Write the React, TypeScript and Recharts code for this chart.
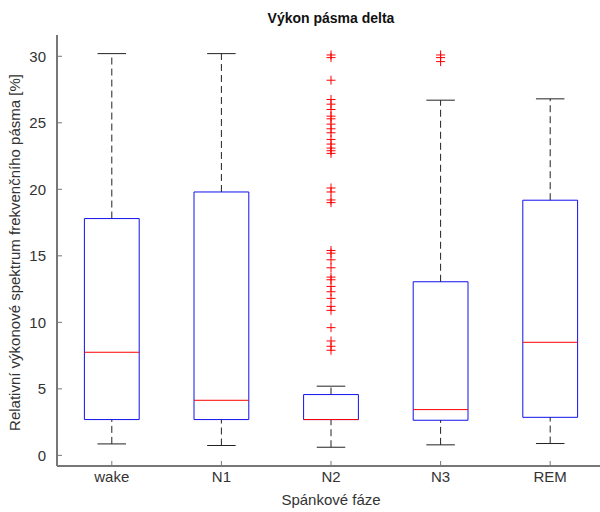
import {
  ComposedChart,
  XAxis,
  YAxis,
  Scatter,
  ReferenceArea,
  ReferenceLine,
} from 'recharts';

const categories = ['wake', 'N1', 'N2', 'N3', 'REM'];
const whiskerLow = [0.86, 0.74, 0.61, 0.79, 0.89];
const quartile1 = [2.69, 2.69, 2.69, 2.64, 2.86];
const medians = [7.75, 4.14, 2.69, 3.44, 8.5];
const quartile3 = [17.8, 19.8, 4.57, 13.05, 19.18];
const whiskerHigh = [30.2, 30.2, 5.2, 26.7, 26.8];

const outliersN2 = [
  30.1, 29.9, 28.2, 26.75, 26.4, 26.0, 25.5, 25.3, 24.9, 24.55, 24.25, 23.75,
  23.4, 23.1, 22.9, 22.7, 20.1, 19.8, 19.2, 19.0, 15.4, 15.2, 14.7, 14.1, 13.4,
  13.2, 12.7, 12.3, 11.8, 11.2, 10.9, 9.6, 8.6, 8.2, 7.9,
];
const outliersN3 = [30.1, 29.9, 29.6];

const yTicks = [0, 5, 10, 15, 20, 25, 30];
const xTicks = [1, 2, 3, 4, 5];

const outlierPoints = [
  ...outliersN2.map((y) => ({ x: 3, y })),
  ...outliersN3.map((y) => ({ x: 4, y })),
];

const FONT = '"Liberation Sans", Arial, sans-serif';
const AXIS = '#777';
const BOX_HALF = 0.25;
const CAP_HALF = 0.13;

// red "+" marker like matlab
const PlusMark = (props: any) => {
  const { cx, cy } = props;
  if (cx == null || cy == null) return null;
  return (
    <g>
      <line x1={cx - 4.5} x2={cx + 4.5} y1={cy} y2={cy} stroke="#ff0000" />
      <line x1={cx} x2={cx} y1={cy - 4.5} y2={cy + 4.5} stroke="#ff0000" />
    </g>
  );
};

export default function App() {
  return (
    <div
      style={{
        position: 'relative',
        width: 600,
        height: 512,
        overflow: 'hidden',
        fontFamily: FONT,
        background: '#fff',
      }}
    >
      <style>{'body{margin:0}'}</style>
      <div
        style={{
          position: 'absolute',
          left: 0,
          width: 662,
          top: 10,
          textAlign: 'center',
          fontWeight: 'bold',
          fontSize: 14,
          color: '#111',
        }}
      >
        Výkon pásma delta
      </div>
      <div
        style={{
          position: 'absolute',
          left: 0,
          width: 662,
          top: 491,
          textAlign: 'center',
          fontSize: 15,
          color: '#333',
        }}
      >
        Spánkové fáze
      </div>
      <div
        style={{
          position: 'absolute',
          left: 14,
          top: 253,
          width: 440,
          marginLeft: -220,
          marginTop: -9,
          textAlign: 'center',
          fontSize: 15,
          color: '#333',
          transform: 'rotate(-90deg)',
          whiteSpace: 'nowrap',
        }}
      >
        Relativní výkonové spektrum frekvenčního pásma [%]
      </div>

      <ComposedChart
        width={610}
        height={512}
        margin={{ top: 35, right: 5, bottom: 0, left: 27 }}
        style={{ position: 'absolute', left: 0, top: 0 }}
      >
        <XAxis
          type="number"
          dataKey="x"
          domain={[0.5, 5.5]}
          ticks={xTicks}
          tickFormatter={(v: number) => categories[v - 1]}
          height={46}
          tickSize={-5}
          tickMargin={10}
          axisLine={{ stroke: AXIS, strokeWidth: 2 }}
          tickLine={{ stroke: AXIS }}
          tick={{ fill: '#333', fontSize: 15, fontFamily: FONT }}
          allowDataOverflow
        />
        <XAxis
          xAxisId="top"
          orientation="top"
          type="number"
          domain={[0.5, 5.5]}
          ticks={xTicks}
          height={0}
          tick={false}
          tickSize={-5}
          axisLine={{ stroke: AXIS, strokeWidth: 2 }}
          tickLine={{ stroke: AXIS }}
        />
        <YAxis
          type="number"
          dataKey="y"
          domain={[-0.8, 31.6]}
          ticks={yTicks}
          width={30}
          tickSize={-5}
          tickMargin={16}
          axisLine={{ stroke: AXIS, strokeWidth: 2 }}
          tickLine={{ stroke: AXIS }}
          tick={{ fill: '#333', fontSize: 15, fontFamily: FONT }}
          allowDataOverflow
        />

        {categories.map((c, i) => {
          const x = i + 1;
          return (
            <ReferenceLine
              key={c + '-wu'}
              segment={[
                { x, y: quartile3[i] },
                { x, y: whiskerHigh[i] },
              ]}
              stroke="#222"
              strokeDasharray="7 4"
            />
          );
        })}
        {categories.map((c, i) => {
          const x = i + 1;
          return (
            <ReferenceLine
              key={c + '-wl'}
              segment={[
                { x, y: whiskerLow[i] },
                { x, y: quartile1[i] },
              ]}
              stroke="#222"
              strokeDasharray="7 4"
            />
          );
        })}
        {categories.map((c, i) => (
          <ReferenceLine
            key={c + '-cu'}
            segment={[
              { x: i + 1 - CAP_HALF, y: whiskerHigh[i] },
              { x: i + 1 + CAP_HALF, y: whiskerHigh[i] },
            ]}
            stroke="#222"
          />
        ))}
        {categories.map((c, i) => (
          <ReferenceLine
            key={c + '-cl'}
            segment={[
              { x: i + 1 - CAP_HALF, y: whiskerLow[i] },
              { x: i + 1 + CAP_HALF, y: whiskerLow[i] },
            ]}
            stroke="#222"
          />
        ))}
        {categories.map((c, i) => (
          <ReferenceArea
            key={c + '-box'}
            x1={i + 1 - BOX_HALF}
            x2={i + 1 + BOX_HALF}
            y1={quartile1[i]}
            y2={quartile3[i]}
            fill="none"
            stroke="#1010ee"
            strokeOpacity={1}
          />
        ))}
        {categories.map((c, i) => (
          <ReferenceLine
            key={c + '-med'}
            segment={[
              { x: i + 1 - BOX_HALF, y: medians[i] },
              { x: i + 1 + BOX_HALF, y: medians[i] },
            ]}
            stroke="#ff0000"
          />
        ))}

        <Scatter
          data={outlierPoints}
          dataKey="y"
          shape={<PlusMark />}
          isAnimationActive={false}
        />
      </ComposedChart>
    </div>
  );
}
